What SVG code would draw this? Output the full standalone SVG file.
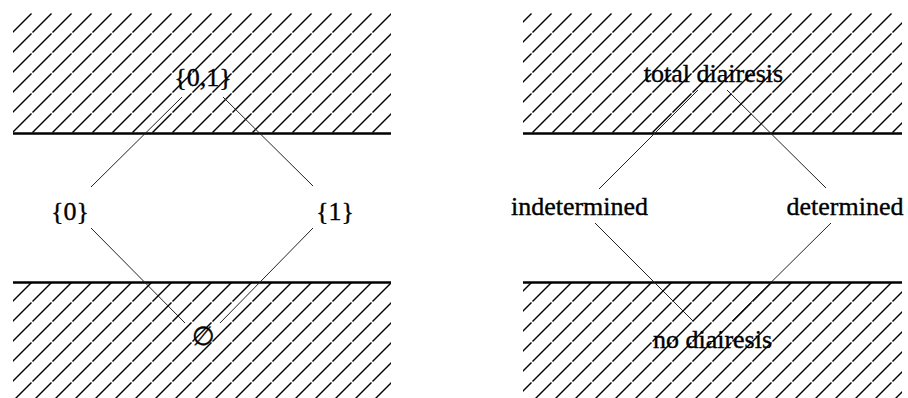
<svg xmlns="http://www.w3.org/2000/svg" width="908" height="398" viewBox="0 0 908 398">
<style>
.lbl{font-family:"Liberation Serif","Times New Roman",serif;font-size:26px;fill:#000;stroke:#000;stroke-width:0.35;text-anchor:middle}
.edge{stroke:#222;stroke-width:1;fill:none}
.bar{stroke:#000;stroke-width:2.5}
.hl{stroke:#000;stroke-width:1.4}
</style>
<defs>
<pattern id="hatchTop" patternUnits="userSpaceOnUse" x="12" y="13" width="20" height="20">
<line class="hl" x1="0.5" y1="19.5" x2="19.5" y2="0.5"/>
</pattern>
<pattern id="hatchBot" patternUnits="userSpaceOnUse" x="12" y="2" width="20" height="20">
<line class="hl" x1="0.5" y1="19.5" x2="19.5" y2="0.5"/>
</pattern>
</defs>
<rect width="908" height="398" fill="#fff"/>
<g id="regions">
<rect x="13" y="13" width="378" height="120" fill="url(#hatchTop)"/>
<rect x="13" y="283" width="378" height="115" fill="url(#hatchBot)"/>
<rect x="523" y="13" width="379" height="120" fill="url(#hatchTop)"/>
<rect x="523" y="283" width="379" height="115" fill="url(#hatchBot)"/>
<line class="bar" x1="13" y1="133.5" x2="391" y2="133.5"/>
<line class="bar" x1="13" y1="282.5" x2="391" y2="282.5"/>
<line class="bar" x1="523" y1="133.5" x2="902" y2="133.5"/>
<line class="bar" x1="523" y1="282.5" x2="902" y2="282.5"/>
</g>
<g id="connectors">
<line class="edge" x1="182" y1="97" x2="91" y2="187"/>
<line class="edge" x1="223" y1="97" x2="313" y2="186"/>
<line class="edge" x1="91" y1="228" x2="185" y2="323"/>
<line class="edge" x1="313" y1="228" x2="220" y2="323"/>
<line class="edge" x1="698" y1="90" x2="599" y2="189"/>
<line class="edge" x1="727" y1="90" x2="826" y2="188"/>
<line class="edge" x1="595" y1="223" x2="693" y2="321"/>
<line class="edge" x1="831" y1="223" x2="732" y2="321"/>
</g>
<g id="n-01"><text class="lbl" x="203" y="86">{0,1}</text></g>
<g id="n-0"><text class="lbl" x="70" y="220">{0}</text></g>
<g id="n-1"><text class="lbl" x="335" y="220">{1}</text></g>
<g id="n-empty"><text class="lbl" x="203" y="345">∅</text></g>
<g id="n-total"><text class="lbl" x="713.5" y="82">total diairesis</text></g>
<g id="n-indet"><text class="lbl" x="579.5" y="215">indetermined</text></g>
<g id="n-det"><text class="lbl" x="845" y="215">determined</text></g>
<g id="n-none"><text class="lbl" x="712.5" y="348">no diairesis</text></g>
</svg>
